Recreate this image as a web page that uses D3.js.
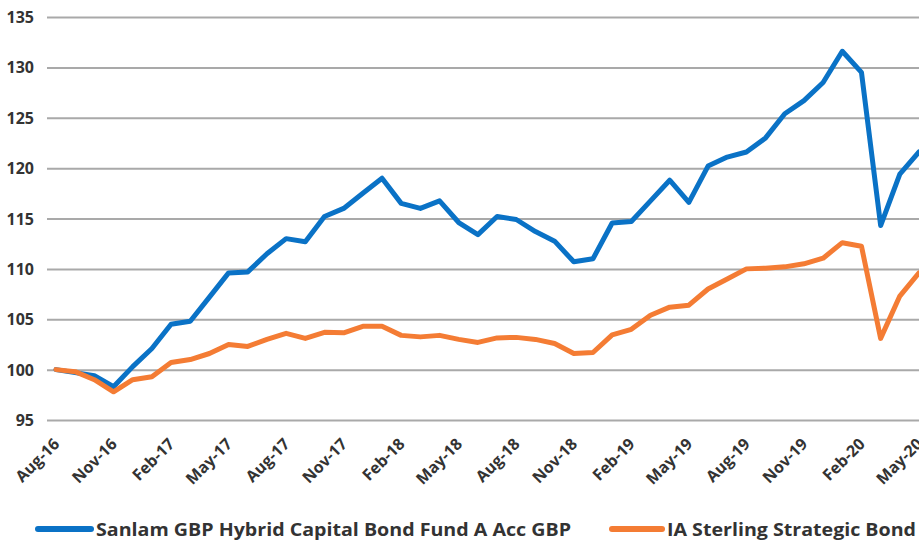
<!DOCTYPE html>
<html>
<head>
<meta charset="utf-8">
<script src="https://cdn.jsdelivr.net/npm/d3@7/dist/d3.min.js"></script>
<style>
  html, body { margin: 0; padding: 0; background: #fff; overflow: hidden; }
  svg { display: block; font-family: "Open Sans", Lato, sans-serif; }
</style>
</head>
<body>
<svg id="chart" width="919" height="542"></svg>
<script>
const months = ["Aug-16","Sep-16","Oct-16","Nov-16","Dec-16","Jan-17","Feb-17","Mar-17","Apr-17","May-17","Jun-17","Jul-17",
  "Aug-17","Sep-17","Oct-17","Nov-17","Dec-17","Jan-18","Feb-18","Mar-18","Apr-18","May-18","Jun-18","Jul-18",
  "Aug-18","Sep-18","Oct-18","Nov-18","Dec-18","Jan-19","Feb-19","Mar-19","Apr-19","May-19","Jun-19","Jul-19",
  "Aug-19","Sep-19","Oct-19","Nov-19","Dec-19","Jan-20","Feb-20","Mar-20","Apr-20","May-20"];

const sanlam = [100.0, 99.7, 99.4, 98.3, 100.3, 102.1, 104.5, 104.8, 107.2, 109.6, 109.7, 111.5,
  113.0, 112.7, 115.2, 116.0, 117.5, 119.0, 116.5, 116.0, 116.75, 114.6, 113.4, 115.2,
  114.9, 113.7, 112.75, 110.7, 111.0, 114.55, 114.7, 116.75, 118.8, 116.6, 120.2, 121.1,
  121.6, 123.0, 125.4, 126.7, 128.5, 131.6, 129.5, 114.3, 119.4, 121.6];

const sterling = [100.0, 99.8, 99.0, 97.8, 99.0, 99.3, 100.7, 101.0, 101.6, 102.5, 102.3, 103.0,
  103.6, 103.1, 103.7, 103.65, 104.3, 104.3, 103.4, 103.25, 103.4, 103.0, 102.7, 103.15,
  103.2, 103.0, 102.6, 101.6, 101.7, 103.45, 104.0, 105.4, 106.2, 106.4, 108.0, 109.0,
  110.0, 110.07, 110.2, 110.5, 111.06, 112.6, 112.25, 103.1, 107.3, 109.6];

const yTicks = [95, 100, 105, 110, 115, 120, 125, 130, 135];
const xTickLabels = ["Aug-16","Nov-16","Feb-17","May-17","Aug-17","Nov-17","Feb-18","May-18","Aug-18","Nov-18","Feb-19","May-19","Aug-19","Nov-19","Feb-20","May-20"];

const seriesNames = ["Sanlam GBP Hybrid Capital Bond Fund A Acc GBP", "IA Sterling Strategic Bond"];
const seriesColors = ["#0a72c6", "#f47c34"];

const svg = d3.select("#chart");
const textColor = "#333333";
const fontFam = "'Open Sans', Lato, sans-serif";

const x = d3.scalePoint().domain(months).range([56, 919]);
const y = d3.scaleLinear().domain([95, 135]).range([420, 17]);

// gridlines + y labels
const yAxis = d3.axisLeft(y).tickValues(yTicks).tickSize(-(940 - 47)).tickPadding(13);
const gy = svg.append("g").attr("transform", "translate(47,0)").call(yAxis)
  .attr("font-family", fontFam).attr("font-size", 16);
gy.select(".domain").remove();
gy.selectAll(".tick line").attr("stroke", "#a9a9a9").attr("stroke-width", 2);
gy.selectAll(".tick text")
  .attr("fill", textColor).attr("font-size", 16).attr("font-weight", 700)
  .attr("dy", "0.35em");

// x labels
const xAxis = d3.axisBottom(x).tickValues(xTickLabels).tickSize(0);
const gx = svg.append("g").attr("transform", "translate(0,420)").call(xAxis)
  .attr("font-family", fontFam).attr("font-size", 16);
gx.select(".domain").remove();
gx.selectAll(".tick text")
  .attr("fill", textColor).attr("font-size", 16).attr("font-weight", 700)
  .attr("text-anchor", "end")
  .attr("y", 0).attr("dy", 0)
  .attr("transform", "translate(4,25) rotate(-45)");

// lines
const line = d3.line().x((d, i) => x(months[i])).y(d => y(d));
[sanlam, sterling].forEach((vals, k) => {
  svg.append("path").datum(vals)
    .attr("d", line)
    .attr("fill", "none")
    .attr("stroke", seriesColors[k])
    .attr("stroke-width", 5)
    .attr("stroke-linejoin", "round")
    .attr("stroke-linecap", "round");
});

// legend
const legendItems = [
  {x1: 38, x2: 91, tx: 96, len: 475},
  {x1: 612, x2: 662, tx: 667, len: 249}
];
legendItems.forEach((it, k) => {
  const g = svg.append("g");
  g.append("line").attr("x1", it.x1).attr("x2", it.x2).attr("y1", 529).attr("y2", 529)
    .attr("stroke", seriesColors[k]).attr("stroke-width", 6).attr("stroke-linecap", "round");
  g.append("text").attr("x", it.tx).attr("y", 536)
    .attr("fill", textColor).attr("font-size", 18).attr("font-weight", 700)
    .attr("font-family", fontFam)
    .attr("textLength", it.len).attr("lengthAdjust", "spacingAndGlyphs")
    .text(seriesNames[k]);
});
</script>
</body>
</html>
